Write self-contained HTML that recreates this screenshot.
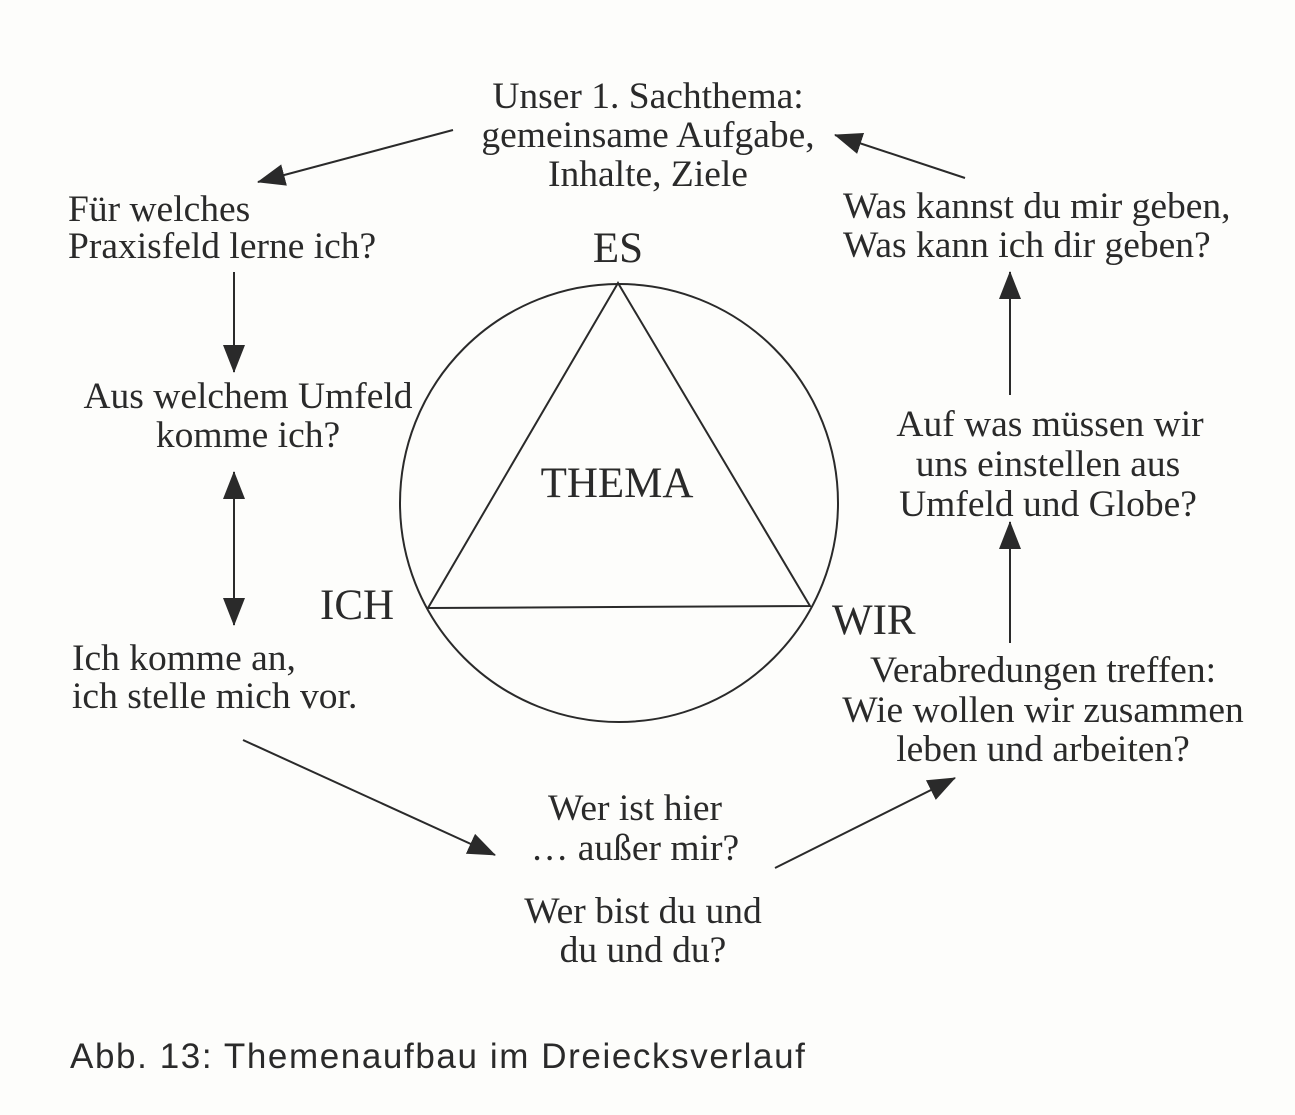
<!DOCTYPE html>
<html><head><meta charset="utf-8"><style>
html,body{margin:0;padding:0;background:#fdfdfb;}
svg{display:block}
.t{font-family:"Liberation Serif",serif;font-size:37.5px;fill:#2a2a2a}
.c{text-anchor:middle}
.L{font-size:43px}
</style></head><body>
<svg width="1295" height="1115" viewBox="0 0 1295 1115" xmlns="http://www.w3.org/2000/svg">
<defs>
<marker id="as" markerWidth="28" markerHeight="22" refX="27" refY="11" orient="auto-start-reverse" markerUnits="userSpaceOnUse" viewBox="0 0 28 22"><path d="M0,0 L28,11 L0,22 Z" fill="#2a2a2a"/></marker></defs>
<g stroke="#2a2a2a" stroke-width="2" fill="none">
<circle cx="619" cy="503" r="219"/>
<path d="M618,283 L428,608 L810,606 Z"/>
<line x1="453" y1="130" x2="258" y2="182" marker-end="url(#as)"/>
<line x1="965" y1="178" x2="835" y2="135" marker-end="url(#as)"/>
<line x1="234" y1="272" x2="234" y2="372" marker-end="url(#as)"/>
<line x1="234" y1="472" x2="234" y2="625" marker-start="url(#as)" marker-end="url(#as)"/>
<line x1="1010" y1="395" x2="1010" y2="272" marker-end="url(#as)"/>
<line x1="1010" y1="643" x2="1010" y2="522" marker-end="url(#as)"/>
<line x1="243" y1="740" x2="495" y2="855" marker-end="url(#as)"/>
<line x1="775" y1="868" x2="955" y2="778" marker-end="url(#as)"/>
</g>
<g class="t">
<text class="c" x="648" y="108">Unser 1. Sachthema:</text>
<text class="c" x="648" y="147">gemeinsame Aufgabe,</text>
<text class="c" x="648" y="186">Inhalte, Ziele</text>
<text x="68" y="221">Für welches</text>
<text x="68" y="258">Praxisfeld lerne ich?</text>
<text x="843" y="218">Was kannst du mir geben,</text>
<text x="843" y="257">Was kann ich dir geben?</text>
<text class="c L" x="618" y="262">ES</text>
<text class="c" x="248" y="408">Aus welchem Umfeld</text>
<text class="c" x="248" y="447">komme ich?</text>
<text class="c" x="1050" y="436">Auf was müssen wir</text>
<text class="c" x="1048" y="476">uns einstellen aus</text>
<text class="c" x="1048" y="516">Umfeld und Globe?</text>
<text class="c L" x="617" y="497">THEMA</text>
<text class="L" x="320" y="619">ICH</text>
<text class="L" x="832" y="634">WIR</text>
<text x="72" y="670">Ich komme an,</text>
<text x="72" y="708">ich stelle mich vor.</text>
<text class="c" x="1043" y="682">Verabredungen treffen:</text>
<text class="c" x="1043" y="722">Wie wollen wir zusammen</text>
<text class="c" x="1043" y="761">leben und arbeiten?</text>
<text class="c" x="635" y="820">Wer ist hier</text>
<text class="c" x="635" y="860">… außer mir?</text>
<text class="c" x="643" y="923">Wer bist du und</text>
<text class="c" x="643" y="962">du und du?</text>
</g>
<text x="70" y="1068" style="font-family:'Liberation Sans',sans-serif;font-size:35px;letter-spacing:1.6px;fill:#2a2a2a">Abb. 13: Themenaufbau im Dreiecksverlauf</text>
</svg>
</body></html>
